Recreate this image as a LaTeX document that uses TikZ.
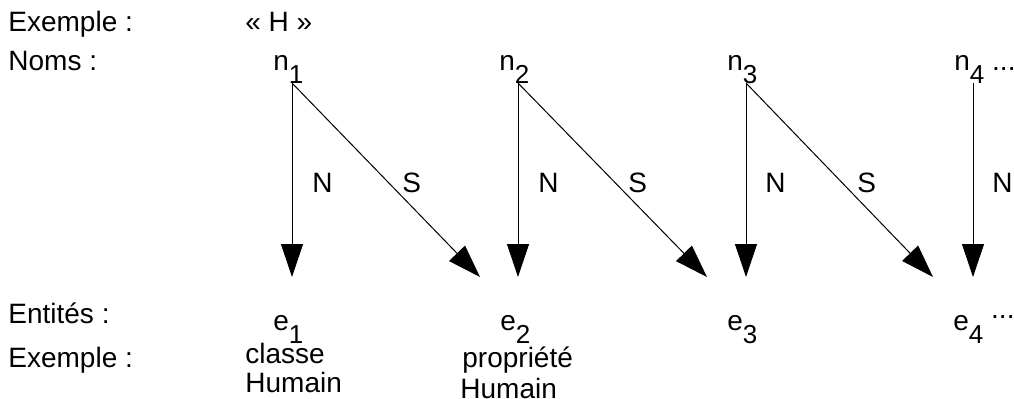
\documentclass[tikz,border=0pt]{standalone}
\usepackage{fontspec}
\setmainfont{Liberation Sans}
\usetikzlibrary{arrows.meta}
\newcommand\mysub[1]{\raisebox{-6.5pt}{\fontsize{13pt}{13pt}\selectfont #1}}
\tikzset{
  lbl/.style={anchor=base west, inner sep=0pt, font=\fontsize{14pt}{16pt}\selectfont},
  arr/.style={line width=0.5pt, -{Triangle[width=11pt,length=16.5pt]}},
}
\begin{document}
\begin{tikzpicture}[x=0.5pt,y=-0.5pt]
\useasboundingbox (0,0) rectangle (1014,398);
% left labels
\node[lbl] (ex1) at (8,31) {Exemple :};
\node[lbl] (hh) at (245,31) {« H »};
\node[lbl] (noms) at (8,70) {Noms :};
\node[lbl] (ent) at (8,323) {Entités :};
\node[lbl] (ex2) at (8,367) {Exemple :};
% names
\node[lbl] (n1) at (273,70) {n\mysub{1}};
\node[lbl] (n2) at (499,70) {n\mysub{2}};
\node[lbl] (n3) at (727,70) {n\mysub{3}};
\node[lbl] (n4) at (954,70) {n\mysub{4} ...};
% entities
\node[lbl] (e1) at (273,330) {e\mysub{1}};
\node[lbl] (e2) at (500,330) {e\mysub{2}};
\node[lbl] (e3) at (727,330) {e\mysub{3}};
\node[lbl] (e4) at (953,330) {e\mysub{4} \raisebox{6pt}{...}};
\node[lbl] (c1) at (245,363) {classe};
\node[lbl] (h1) at (245,392) {Humain};
\node[lbl] (p2) at (462,367) {propriété};
\node[lbl] (h2) at (460,398) {Humain};
% connector ends
\coordinate (s1) at (292,83);
\coordinate (s2) at (518,83);
\coordinate (s3) at (746,83);
\coordinate (s4) at (973,83);
\coordinate (t1) at (292,277);
\coordinate (t2) at (518,277);
\coordinate (t3) at (746,277);
\coordinate (t4) at (973,277);
\coordinate (d1) at (480,277);
\coordinate (d2) at (707,277);
\coordinate (d3) at (933,277);
\draw[arr] (s1) -- (t1);
\draw[arr] (s2) -- (t2);
\draw[arr] (s3) -- (t3);
\draw[arr] (s4) -- (t4);
\draw[arr] (s1) -- (d1);
\draw[arr] (s2) -- (d2);
\draw[arr] (s3) -- (d3);
% edge labels
\node[lbl] (N1) at (312,192) {N};
\node[lbl] (N2) at (538,192) {N};
\node[lbl] (N3) at (765,192) {N};
\node[lbl] (N4) at (992,192) {N};
\node[lbl] (S1) at (402,192) {S};
\node[lbl] (S2) at (628,192) {S};
\node[lbl] (S3) at (857,192) {S};
\end{tikzpicture}
\end{document}
